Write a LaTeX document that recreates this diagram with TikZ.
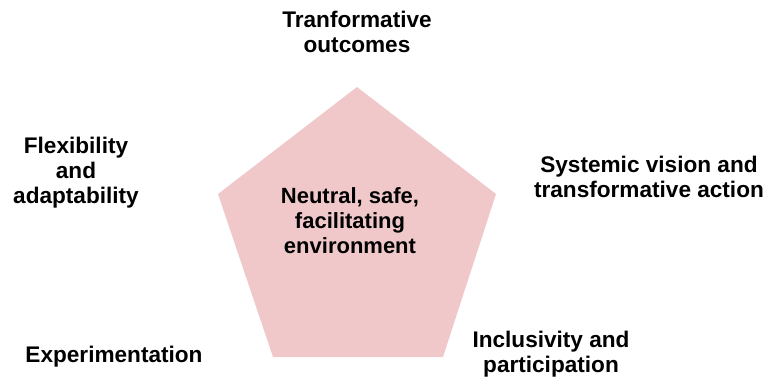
\documentclass[tikz,border=0pt]{standalone}
\usepackage{fontspec}
\setmainfont{Liberation Sans}
\usepackage{xcolor}
\usepackage{tikz}
\usetikzlibrary{positioning, calc}
\definecolor{envpink}{RGB}{240,200,202}

\tikzset{
  aspect/.style={align=center, anchor=base, inner sep=0pt,
                 font=\fontsize{22.6}{25}\selectfont\bfseries}
}

\begin{document}
\begin{tikzpicture}[x=1pt, y=-1pt]
        \useasboundingbox (0,0) rectangle (764,381);

        % pentagon corners
        \coordinate (ptop)   at (357,87);
        \coordinate (pright) at (496,194);
        \coordinate (pbr)    at (443,357);
        \coordinate (pbl)    at (273,357);
        \coordinate (pleft)  at (218,194);
        \fill[envpink] (ptop) -- (pright) -- (pbr) -- (pbl) -- (pleft) -- cycle;

        \node[aspect, font=\fontsize{22}{25}\selectfont\bfseries] (env) at (350,253)
          {Neutral, safe,\\facilitating\\environment};

        % the five aspects round it
        \node[aspect] (outcomes) at (357,52)  {Tranformative\\outcomes};
        \node[aspect] (systemic) at (649,197) {Systemic vision and\\transformative action};
        \node[aspect] (inclusive) at (551,372) {Inclusivity and\\participation};
        \node[aspect] (experiment) at (114,362) {Experimentation};
        \node[aspect] (flexible) at (76,203) {Flexibility\\and\\adaptability};
      \end{tikzpicture}
\end{document}
